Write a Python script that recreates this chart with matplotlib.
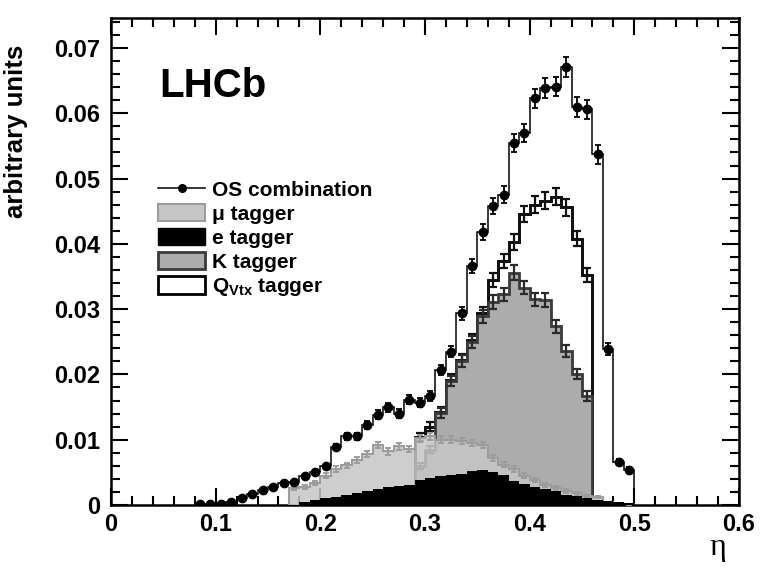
import numpy as np
import matplotlib
matplotlib.use('Agg')
import matplotlib.pyplot as plt
from matplotlib.lines import Line2D
from matplotlib.patches import Patch
from matplotlib.ticker import MultipleLocator

plt.rcParams['font.family'] = ['Liberation Sans', 'DejaVu Sans']
plt.rcParams['font.weight'] = 'bold'
plt.rcParams['mathtext.fontset'] = 'custom'
plt.rcParams['mathtext.rm'] = 'Liberation Sans:bold'
plt.rcParams['mathtext.bf'] = 'Liberation Sans:bold'

bin_width = 0.01

# OS combination, bins from 0.08 to 0.50
os_start = 0.08
os_vals = [0.0001, 0.0002, 0.0002, 0.0004, 0.0010, 0.0017, 0.0023, 0.0027, 0.0033, 0.0035,
           0.0044, 0.0050, 0.0059, 0.0089, 0.0105, 0.0105, 0.0123, 0.0138, 0.0150, 0.0140,
           0.0161, 0.0157, 0.0167, 0.0207, 0.0235, 0.0294, 0.0366, 0.0418, 0.0458, 0.0475,
           0.0555, 0.0570, 0.0623, 0.0639, 0.0641, 0.0671, 0.0610, 0.0606, 0.0537, 0.0239,
           0.0066, 0.0054]
os_err = [0.0001, 0.0001, 0.0001, 0.0001, 0.0002, 0.0002, 0.0003, 0.0003, 0.0003, 0.0003,
          0.0004, 0.0004, 0.0004, 0.0005, 0.0006, 0.0006, 0.0006, 0.0007, 0.0007, 0.0007,
          0.0007, 0.0007, 0.0008, 0.0008, 0.0009, 0.0010, 0.0011, 0.0012, 0.0013, 0.0013,
          0.0014, 0.0014, 0.0015, 0.0015, 0.0015, 0.0015, 0.0015, 0.0015, 0.0014, 0.0009,
          0.0005, 0.0004]

# muon tagger, bins from 0.17
mu_start = 0.17
mu_vals = [0.0026, 0.0028, 0.0033, 0.0045, 0.0055, 0.0061, 0.0069, 0.0078, 0.0092, 0.0082,
           0.0090, 0.0086, 0.0102, 0.0105, 0.0100, 0.0100, 0.0098, 0.0095, 0.0092, 0.0072,
           0.0062, 0.0055, 0.0045, 0.0038, 0.0030, 0.0026, 0.0022, 0.0018, 0.0014, 0.0012,
           0.0004, 0.0002, 0.0001]
mu_err = [0.0003, 0.0003, 0.0003, 0.0004, 0.0004, 0.0004, 0.0004, 0.0005, 0.0005, 0.0005,
          0.0005, 0.0005, 0.0005, 0.0005, 0.0005, 0.0005, 0.0005, 0.0005, 0.0005, 0.0004,
          0.0004, 0.0004, 0.0004, 0.0003, 0.0003, 0.0003, 0.0003, 0.0002, 0.0002, 0.0002,
          0.0001, 0.0001, 0.0001]

# electron tagger, bins from 0.18
e_start = 0.18
e_vals = [0.0005, 0.0008, 0.0010, 0.0012, 0.0016, 0.0019, 0.0021, 0.0025, 0.0028, 0.0029,
          0.0030, 0.0038, 0.0042, 0.0044, 0.0046, 0.0048, 0.0052, 0.0053, 0.0050, 0.0046,
          0.0036, 0.0032, 0.0028, 0.0025, 0.0022, 0.0016, 0.0014, 0.0011, 0.0008, 0.0006,
          0.0004, 0.0003]

# kaon tagger, bins from 0.29 to 0.46
k_start = 0.29
k_vals = [0.0060, 0.0085, 0.0141, 0.0190, 0.0221, 0.0250, 0.0289, 0.0311, 0.0323, 0.0356,
          0.0333, 0.0315, 0.0314, 0.0274, 0.0236, 0.0201, 0.0167]
k_err = [0.0005, 0.0006, 0.0007, 0.0008, 0.0009, 0.0009, 0.0010, 0.0010, 0.0010, 0.0011,
         0.0010, 0.0010, 0.0010, 0.0010, 0.0009, 0.0008, 0.0008]

# vertex charge tagger, bins from 0.29 to 0.46
q_start = 0.29
q_vals = [0.0104, 0.0120, 0.0143, 0.0192, 0.0222, 0.0253, 0.0294, 0.0345, 0.0374, 0.0403,
          0.0446, 0.0460, 0.0466, 0.0472, 0.0456, 0.0408, 0.0352]
q_err = [0.0006, 0.0007, 0.0007, 0.0008, 0.0009, 0.0009, 0.0010, 0.0011, 0.0011, 0.0012,
         0.0012, 0.0013, 0.0013, 0.0013, 0.0013, 0.0012, 0.0011]


def edges_of(start, vals):
    return start + bin_width * np.arange(len(vals) + 1)


def centers_of(start, vals):
    return start + bin_width * (np.arange(len(vals)) + 0.5)


fig = plt.figure(figsize=(7.73, 5.69), dpi=100)
ax = fig.add_axes([111/773, 1-505/569, 628/773, 487/569])

col_mu = '#c6c6c6'
col_k = '#acacac'

# Q_Vtx: white fill, black outline
ax.stairs(q_vals, edges_of(q_start, q_vals), fill=True, facecolor='white',
          edgecolor='#111111', linewidth=2.0, zorder=2)
ax.stairs(q_vals, edges_of(q_start, q_vals), color='#111111', linewidth=2.0, zorder=2.2)
ax.errorbar(centers_of(q_start, q_vals), q_vals, yerr=q_err, fmt='none', ecolor='#111111',
            elinewidth=1.6, capsize=3, capthick=1.6, zorder=2.3)

# K tagger
ax.stairs(k_vals, edges_of(k_start, k_vals), fill=True, facecolor=col_k, zorder=3)
ax.stairs(k_vals, edges_of(k_start, k_vals), color='#3a3a3a', linewidth=2.0, zorder=3.2)
ax.errorbar(centers_of(k_start, k_vals), k_vals, yerr=k_err, fmt='none', ecolor='#2a2a2a',
            elinewidth=1.6, capsize=3, capthick=1.6, zorder=3.3)

# mu tagger
ax.stairs(mu_vals, edges_of(mu_start, mu_vals), fill=True, facecolor=col_mu, alpha=0.85, zorder=4)
ax.stairs(mu_vals, edges_of(mu_start, mu_vals), color='#9c9c9c', linewidth=1.5, zorder=4.2)
ax.errorbar(centers_of(mu_start, mu_vals), mu_vals, yerr=mu_err, fmt='none', ecolor='#9c9c9c',
            elinewidth=1.4, capsize=2.5, capthick=1.4, zorder=4.3)

# e tagger
ax.stairs(e_vals, edges_of(e_start, e_vals), fill=True, facecolor='black', zorder=5)

# OS combination
ax.stairs(os_vals, edges_of(os_start, os_vals), color='black', linewidth=1.1, zorder=6)
ax.errorbar(centers_of(os_start, os_vals), os_vals, yerr=os_err, fmt='o', color='black',
            markersize=6, elinewidth=1.3, capsize=2.5, capthick=1.3, zorder=6.5)

ax.set_xlim(0, 0.6)
ax.set_ylim(0, 0.0746)
ax.set_xticks(np.arange(0, 0.61, 0.1))
ax.set_xticklabels(['0', '0.1', '0.2', '0.3', '0.4', '0.5', '0.6'])
ax.set_yticks(np.arange(0, 0.071, 0.01))
ax.set_yticklabels(['0', '0.01', '0.02', '0.03', '0.04', '0.05', '0.06', '0.07'])
ax.xaxis.set_minor_locator(MultipleLocator(0.02))
ax.yaxis.set_minor_locator(MultipleLocator(0.002))
ax.tick_params(which='both', direction='in', top=True, right=True, width=1.5, labelsize=17)
ax.tick_params(which='major', length=12)
ax.tick_params(which='minor', length=6.5)
ax.tick_params(axis='y', pad=8)
ax.tick_params(axis='x', pad=6)
for sp in ax.spines.values():
    sp.set_linewidth(1.8)

ax.text(0.077, 0.838, 'LHCb', transform=ax.transAxes, fontsize=29, fontweight='bold')

fig.text(16/773, 1-45/569, 'arbitrary units', rotation=90, ha='center', va='top',
         fontsize=18.5, fontweight='bold')
fig.text(718/773, 1-548/569, 'η', ha='center', va='center', fontsize=23,
         family=['Liberation Serif', 'DejaVu Serif'], fontweight='normal')

handles = [
    Line2D([], [], color='black', marker='o', markersize=5.5, linewidth=1.1),
    Patch(facecolor=col_mu, edgecolor='#9c9c9c', linewidth=1.5),
    Patch(facecolor='black', edgecolor='black'),
    Patch(facecolor=col_k, edgecolor='#3a3a3a', linewidth=2),
    Patch(facecolor='white', edgecolor='black', linewidth=2),
]
labels = ['OS combination', 'μ tagger', 'e tagger', 'K tagger', r'Q$_{\mathbf{Vtx}}$ tagger']
ax.legend(handles, labels, loc='upper left', bbox_to_anchor=(0.075, 0.667), frameon=False,
          handlelength=2.26, handleheight=0.9, handletextpad=0.35,
          labelspacing=0.2, borderpad=0, borderaxespad=0, prop={'weight': 'bold', 'size': 15})

fig.savefig('out.png', dpi=100)
